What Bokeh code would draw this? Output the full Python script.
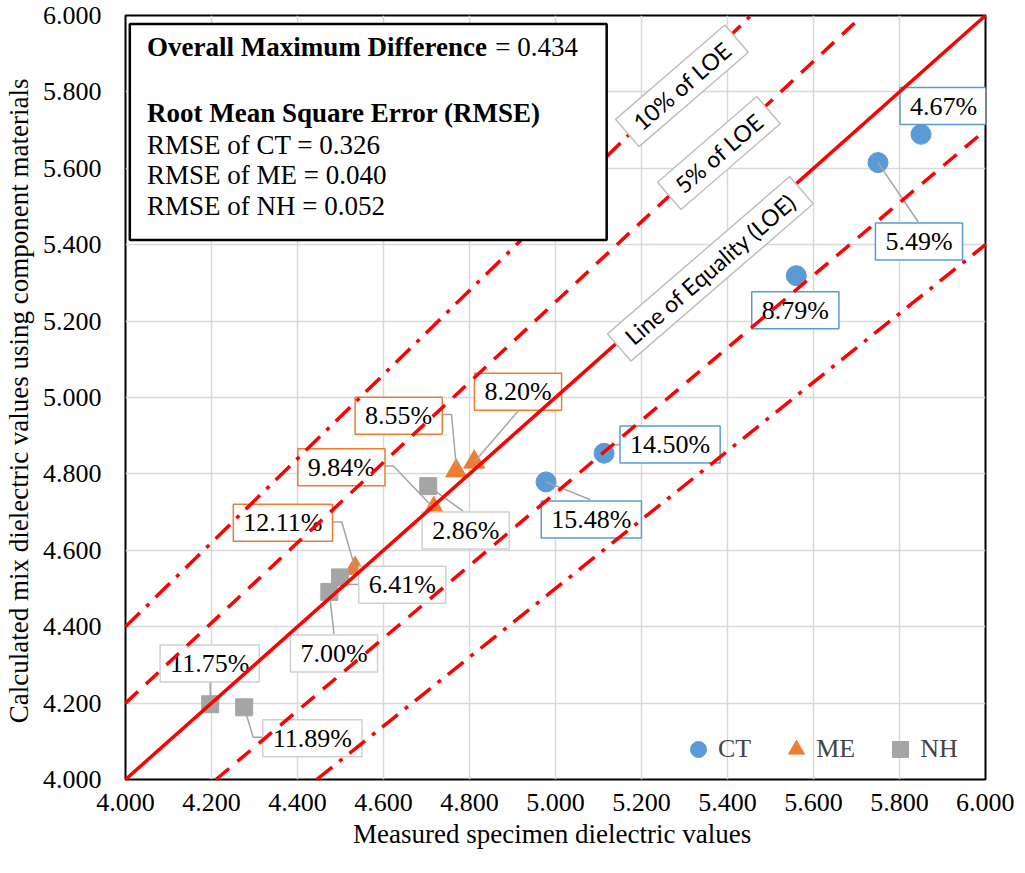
from bokeh.plotting import figure
from bokeh.models import (BoxAnnotation, FixedTicker, Label, Legend, LegendItem,
                          NumeralTickFormatter, Range1d)
from bokeh.embed import file_html
from bokeh.resources import INLINE

# axis ticks
x_ticks = [4.0, 4.2, 4.4, 4.6, 4.8, 5.0, 5.2, 5.4, 5.6, 5.8, 6.0]
y_ticks = [4.0, 4.2, 4.4, 4.6, 4.8, 5.0, 5.2, 5.4, 5.6, 5.8, 6.0]

# measured vs calculated dielectric values, with the % difference of each specimen
ct_measured = [5.850, 5.750, 5.560, 5.113, 4.978]
ct_calculated = [5.689, 5.615, 5.319, 4.854, 4.779]
ct_diff = ["4.67%", "5.49%", "8.79%", "14.50%", "15.48%"]

me_measured = [4.811, 4.769, 4.717, 4.534]
me_calculated = [4.831, 4.808, 4.710, 4.553]
me_diff = ["8.20%", "8.55%", "9.84%", "12.11%"]

nh_measured = [4.704, 4.499, 4.474, 4.197, 4.276]
nh_calculated = [4.768, 4.529, 4.491, 4.197, 4.189]
nh_diff = ["2.86%", "6.41%", "7.00%", "11.75%", "11.89%"]

# line of equality and the 5% / 10% bands
loe_ratio = [1.10, 1.05, 1.00, 0.95, 0.90]
loe_names = ["10% of LOE", "5% of LOE", "Line of Equality (LOE)"]

# summary box
overall_max_diff = "0.434"
rmse_names = ["CT", "ME", "NH"]
rmse_values = ["0.326", "0.040", "0.052"]

X0, X1, Y0, Y1 = 4.0, 6.0, 4.0, 6.0
FW, FH = 860, 764
PX = FW / (X1 - X0)
PY = FH / (Y1 - Y0)

SERIF = "Liberation Serif"
RED = "#ff0000"
LEADER = "#a5a5a5"

# label placement (pixels from the point: right, down) and leader paths
ct_label_px = [(22.6, -28.3), (41, 79), (-1, 34.5), (66, -8.7), (45.3, 37.6)]
ct_leader_px = [None, [(0, 0), (40.3, 59.4)], None,
                [(0, 0), (8, -8.4), (16, -8.4)], [(0, 0), (44.3, 17.8)]]
me_label_px = [(43.8, -70.3), (-57.5, -55.2), (-92.4, -41), (-72.2, -45.5)]
me_leader_px = [[(44.1, -51.2), (0, 0)],
                [(-14.6, -56.4), (-4.6, -56.4), (0, -5)],
                [(-49.7, -42.2), (-40.4, -42.2), (0, 0)],
                [(-22.7, -46.3), (-13.3, -46.3), (0, 0)]]
nh_label_px = [(37.5, 44.5), (62.2, 7.3), (4.7, 61.5), (-0.5, -40.8), (68.2, 30.9)]
nh_leader_px = [[(0, 0), (35, 25)], [(8, 7), (19.5, 7)], [(0, 0), (4.7, 42.3)],
                [(0, -22), (0, 0)], [(0, 0), (9, 30), (19, 30)]]


def shift(x, y, dx, dy):
    return x + dx / PX, y - dy / PY


p = figure(frame_width=FW, frame_height=FH, x_range=Range1d(X0, X1), y_range=Range1d(Y0, Y1),
           output_backend="svg", toolbar_location=None,
           min_border_left=122, min_border_right=29, min_border_top=15, min_border_bottom=78,
           x_axis_label="Measured specimen dielectric  values",
           y_axis_label="Calculated mix dielectric  values using component materials")
p.outline_line_color = "black"
p.outline_line_width = 2

for ax, ticks in ((p.xaxis[0], x_ticks), (p.yaxis[0], y_ticks)):
    ax.ticker = FixedTicker(ticks=ticks)
    ax.formatter = NumeralTickFormatter(format="0.000")
    ax.axis_line_color = None
    ax.major_tick_line_color = None
    ax.minor_tick_line_color = None
    ax.major_tick_out = 0
    ax.major_tick_in = 0
    ax.major_label_text_font = SERIF
    ax.major_label_text_font_size = "26px"
    ax.major_label_text_color = "black"
    ax.axis_label_text_font = SERIF
    ax.axis_label_text_font_size = "27px"
    ax.axis_label_text_font_style = "normal"
    ax.axis_label_text_color = "black"
p.xaxis.major_label_standoff = 14
p.xaxis.axis_label_standoff = 5
p.yaxis.major_label_standoff = 24
p.yaxis.axis_label_standoff = 6

p.grid.grid_line_color = "#d9d9d9"
p.grid.grid_line_width = 1.5
p.xgrid.ticker = FixedTicker(ticks=x_ticks)
p.ygrid.ticker = FixedTicker(ticks=y_ticks)

# markers
ct_r = p.scatter(ct_measured, ct_calculated, marker="circle", size=20, color="#5b9bd5")
me_r = p.scatter(me_measured, me_calculated, marker="triangle", size=21, color="#ed7d31")
nh_r = p.scatter(nh_measured, nh_calculated, marker="square", size=17, color="#a5a5a5")

series = [
    (ct_measured, ct_calculated, ct_diff, ct_label_px, ct_leader_px, "#5b9bd5"),
    (me_measured, me_calculated, me_diff, me_label_px, me_leader_px, "#ed7d31"),
    (nh_measured, nh_calculated, nh_diff, nh_label_px, nh_leader_px, "#d0d0d0"),
]

# leader lines
lx, ly = [], []
for xs, ys, _, _, leaders, _ in series:
    for x, y, path in zip(xs, ys, leaders):
        if path is None:
            continue
        pts = [shift(x, y, dx, dy) for dx, dy in path]
        lx.append([q[0] for q in pts])
        ly.append([q[1] for q in pts])
p.multi_line(lx, ly, line_color=LEADER, line_width=1.5)

# data labels
for xs, ys, texts, offs, _, col in series:
    for x, y, t, (dx, dy) in zip(xs, ys, texts, offs):
        cx, cy = shift(x, y, dx, dy)
        p.add_layout(Label(x=cx, y=cy, text=t, text_font=SERIF, text_font_size="26px",
                           text_color="black", text_align="center", text_baseline="middle",
                           background_fill_color="white", border_line_color=col,
                           border_line_width=1.5,
                           padding=dict(left=10, right=10, top=4, bottom=4)))

# LOE lines, drawn above the data labels (overlay is not clipped, so clip here)
dashes = ["20 9 4 9", "17 11", "solid", "17 11", "20 9 4 9"]
for r, d in zip(loe_ratio, dashes):
    xa, xb = max(X0, Y0 / r), min(X1, Y1 / r)
    p.line([xa, xb], [r * xa, r * xb], line_color=RED, line_width=3.5,
           line_dash=d, level="overlay")

# rotated line notes
note_pos = [(5.294, 5.816), (5.380, 5.640), (5.360, 5.337)]
for t, (nx, ny) in zip(loe_names, note_pos):
    p.add_layout(Label(x=nx, y=ny, text=t, angle=40.8, angle_units="deg",
                       text_font="Lato", text_font_size="23px", text_color="black",
                       text_align="center", text_baseline="middle",
                       background_fill_color="white", border_line_color="#bfbfbf",
                       border_line_width=1.5, level="overlay",
                       padding=dict(left=12, right=12, top=4, bottom=4)))

# summary box
p.add_layout(BoxAnnotation(left=4.010, right=5.119, top=5.978, bottom=5.412,
                           fill_color="white", fill_alpha=1, line_color="black",
                           line_width=2.5, line_alpha=1, level="overlay"))
rows = [("Overall Maximum Difference", "bold", 5.917),
        ("Root Mean Square Error (RMSE)", "bold", 5.746)]
for i, (n, v) in enumerate(zip(rmse_names, rmse_values)):
    rows.append((f"RMSE of {n} = {v}", "normal", 5.662 - i * 0.0805))
for t, style, ty in rows:
    p.add_layout(Label(x=4.050, y=ty, text=t, text_font=SERIF, text_font_size="27px",
                       text_font_style=style, text_color="black", text_baseline="middle",
                       level="overlay"))
p.add_layout(Label(x=4.860, y=5.917, text="= " + overall_max_diff, text_font=SERIF,
                   text_font_size="27px", text_color="black", text_baseline="middle",
                   level="overlay"))

legend = Legend(items=[LegendItem(label="CT", renderers=[ct_r]),
                       LegendItem(label="ME", renderers=[me_r]),
                       LegendItem(label="NH", renderers=[nh_r])],
                orientation="horizontal", location=(553, 10),
                glyph_width=40, glyph_height=40, label_standoff=0, spacing=25,
                padding=0, margin=0, border_line_color=None, background_fill_alpha=0,
                label_text_font=SERIF, label_text_font_size="26px")
p.add_layout(legend)

open("out.html", "w").write(file_html(p, INLINE))
